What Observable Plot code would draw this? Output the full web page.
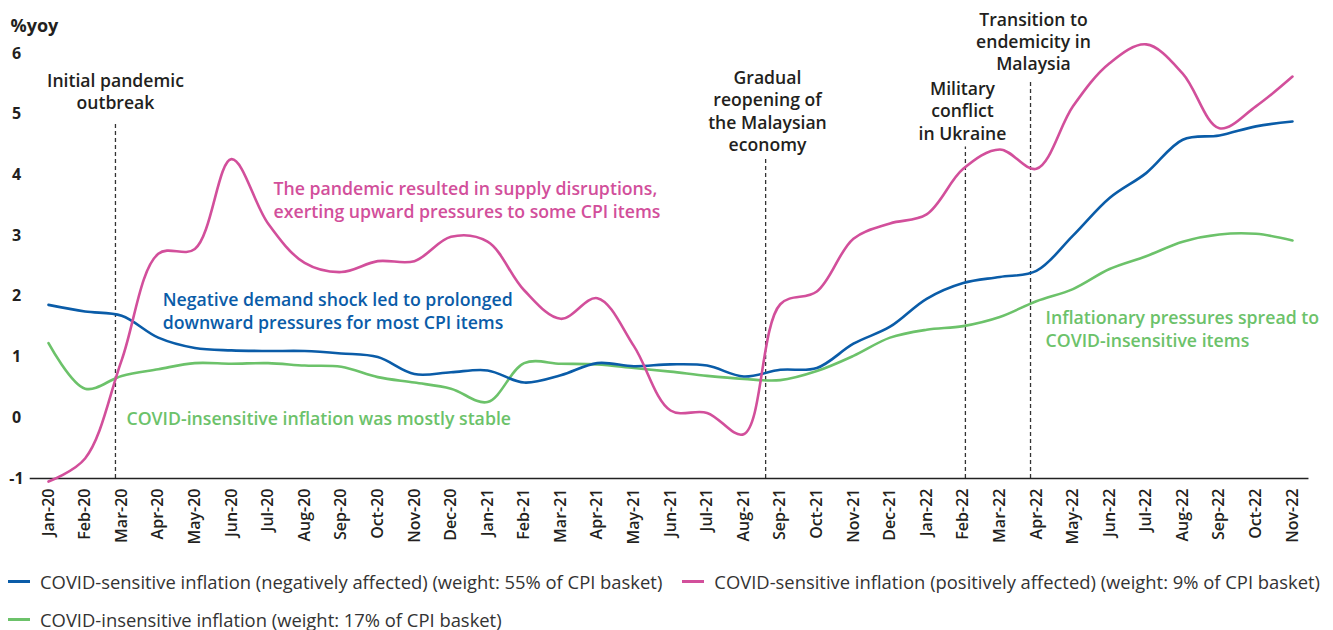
<!DOCTYPE html>
<html>
<head>
<meta charset="utf-8">
<script src="https://cdn.jsdelivr.net/npm/d3@7"></script>
<script src="https://cdn.jsdelivr.net/npm/@observablehq/plot@0.6"></script>
<style>
  body { margin: 0; background: #fff; font-family: "Open Sans", sans-serif; }
  #legend { margin-top: 2px; padding-left: 8px; color: #333; font-size: 18.4px; }
  .row { display: flex; align-items: center; height: 38px; white-space: nowrap; }
  .item { display: inline-flex; align-items: center; margin-right: 20px; }
  .sw { width: 22px; height: 3px; margin-right: 10px; }
</style>
</head>
<body>
<div id="chart"></div>
<script>
const months = ["Jan-20","Feb-20","Mar-20","Apr-20","May-20","Jun-20","Jul-20","Aug-20","Sep-20","Oct-20","Nov-20","Dec-20",
  "Jan-21","Feb-21","Mar-21","Apr-21","May-21","Jun-21","Jul-21","Aug-21","Sep-21","Oct-21","Nov-21","Dec-21",
  "Jan-22","Feb-22","Mar-22","Apr-22","May-22","Jun-22","Jul-22","Aug-22","Sep-22","Oct-22","Nov-22"];
const negativelyAffected = [1.86,1.75,1.68,1.32,1.15,1.11,1.10,1.10,1.06,1.00,0.72,0.75,
  0.78,0.58,0.70,0.90,0.85,0.88,0.86,0.68,0.79,0.82,1.22,1.50,
  1.96,2.22,2.32,2.42,3.00,3.62,4.03,4.58,4.65,4.80,4.88];
const positivelyAffected = [-1.05,-0.67,0.95,2.70,2.78,4.26,3.20,2.55,2.40,2.58,2.58,2.98,
  2.90,2.10,1.63,1.97,1.18,0.12,0.08,-0.27,1.87,2.08,2.95,3.20,
  3.35,4.10,4.42,4.10,5.13,5.84,6.15,5.67,4.77,5.13,5.62];
const insensitive = [1.23,0.48,0.69,0.80,0.90,0.89,0.90,0.86,0.84,0.67,0.58,0.48,
  0.26,0.90,0.89,0.88,0.82,0.76,0.69,0.64,0.62,0.77,1.02,1.32,
  1.45,1.51,1.66,1.92,2.12,2.45,2.66,2.90,3.02,3.03,2.92];
const yTicks = [-1,0,1,2,3,4,5,6];
const eventLabels = ["Initial pandemic\noutbreak","Gradual\nreopening of\nthe Malaysian\neconomy","Military\nconflict\nin Ukraine","Transition to\nendemicity in\nMalaysia"];
const eventPos = [1.83, 19.6, 25.06, 26.84];
const eventLineTop = [4.88, 4.26, 4.46, 5.54];
const eventLabelPos = [1.83, 19.65, 24.98, 26.92];
const eventLabelTop = [5.71, 5.76, 5.58, 6.72];
const noteTexts = ["The pandemic resulted in supply disruptions,\nexerting upward pressures to some CPI items",
  "Negative demand shock led to prolonged\ndownward pressures for most CPI items",
  "COVID-insensitive inflation was mostly stable",
  "Inflationary pressures spread to\nCOVID-insensitive items"];
const noteX = [6.15, 3.12, 2.13, 27.25];
const noteY = [3.94, 2.11, 0.155, 1.82];
const seriesNames = ["COVID-sensitive inflation (negatively affected) (weight: 55% of CPI basket)",
  "COVID-sensitive inflation (positively affected) (weight: 9% of CPI basket)",
  "COVID-insensitive inflation (weight: 17% of CPI basket)"];
const colors = ["#0a5ca8", "#d24f9b", "#6cc26a"];

const rows = months.map((m, i) => ({i, neg: negativelyAffected[i], pos: positivelyAffected[i], ins: insensitive[i]}));
const events = eventPos.map((p, k) => ({pos: p, top: eventLineTop[k], lx: eventLabelPos[k], ly: eventLabelTop[k], label: eventLabels[k]}));
const notes = noteTexts.map((t, k) => ({t, x: noteX[k], y: noteY[k], c: [colors[1], colors[0], colors[2], colors[2]][k]}));

const plot = Plot.plot({
  width: 1333, height: 560,
  marginLeft: 48, marginRight: 41, marginTop: 53, marginBottom: 82,
  style: {fontFamily: "'Open Sans', sans-serif", color: "#231f20", background: "#fff"},
  x: {type: "linear", domain: [0, months.length - 1], axis: null},
  y: {domain: [-1, 6], axis: null},
  marks: [
    Plot.ruleX(events, {x: "pos", y1: -1, y2: "top", stroke: "#333", strokeWidth: 1.3, strokeDasharray: "4,3"}),
    Plot.ruleY([-1], {x1: -0.5, x2: 34.45, stroke: "#222", strokeWidth: 1.3}),
    Plot.axisX({ticks: months.map((m, i) => i), tickFormat: i => months[i], tickRotate: -90, tickSize: 0, tickPadding: 10,
      fontSize: 16, fontWeight: 600, label: null}),
    Plot.text(yTicks, {y: d => d, text: d => String(d), frameAnchor: "left", dx: -32, textAnchor: "middle",
      fontSize: 16, fontWeight: 700, fill: "#231f20"}),
    Plot.text(["%yoy"], {frameAnchor: "top-left", dx: -38, dy: -27, textAnchor: "start", lineAnchor: "middle",
      fontSize: 18, fontWeight: 700, fill: "#231f20"}),
    Plot.line(rows, {x: "i", y: "ins", stroke: colors[2], strokeWidth: 2.6, curve: "catmull-rom"}),
    Plot.line(rows, {x: "i", y: "neg", stroke: colors[0], strokeWidth: 2.6, curve: "catmull-rom"}),
    Plot.line(rows, {x: "i", y: "pos", stroke: colors[1], strokeWidth: 2.6, curve: "catmull-rom"}),
    Plot.text(events, {x: "lx", y: "ly", text: "label", textAnchor: "middle", lineAnchor: "top", lineHeight: 1.27,
      fontSize: 17.6, fontWeight: 600, fill: "#231f20"}),
    Plot.text(notes, {x: "x", y: "y", text: "t", fill: "c", textAnchor: "start", lineAnchor: "top", lineHeight: 1.3,
      fontSize: 17.7, fontWeight: 600})
  ]
});
document.getElementById("chart").appendChild(plot);

const legend = document.createElement("div");
legend.id = "legend";
const rowsSpec = [[0, 1], [2]];
rowsSpec.forEach(r => {
  const row = document.createElement("div");
  row.className = "row";
  r.forEach(k => {
    const it = document.createElement("span");
    it.className = "item";
    const sw = document.createElement("span");
    sw.className = "sw";
    sw.style.background = colors[k];
    const tx = document.createElement("span");
    tx.textContent = seriesNames[k];
    it.appendChild(sw); it.appendChild(tx);
    row.appendChild(it);
  });
  legend.appendChild(row);
});
document.body.appendChild(legend);
</script>
</body>
</html>
